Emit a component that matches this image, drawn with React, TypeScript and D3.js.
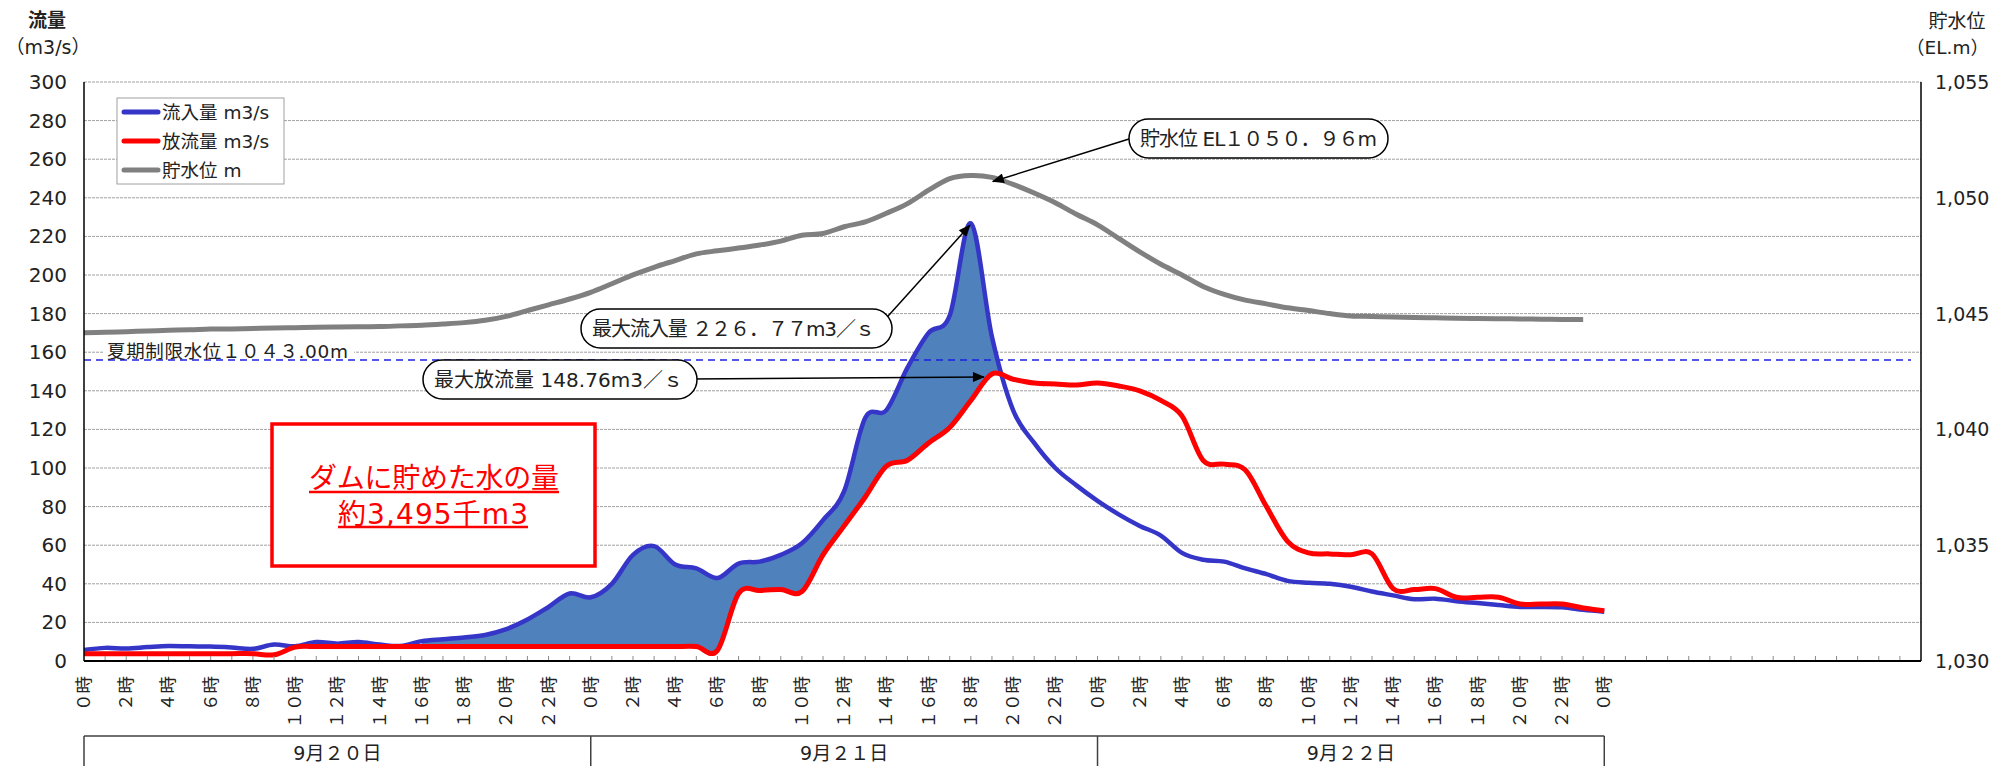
import React from 'react';
import * as d3 from 'd3';

// ---- data (hourly, 9/20 0時 = index 0) ----
const inflow = [
  5.7, 6.8, 6.5, 7.2, 7.8, 7.6, 7.5, 7.0, 6.3, 8.5,
  7.6, 9.8, 9.0, 9.8, 8.5, 7.8, 10.3, 11.3, 12.2, 13.5,
  16.5, 21.5, 28, 35, 33, 40, 55, 59.5, 50, 48,
  43, 50.5, 51.5, 55, 61, 73, 88, 126, 130, 152,
  170, 179, 226.77, 168, 130, 113, 100, 91, 83, 76,
  70, 65, 56, 52.5, 51.5, 48, 45, 41.5, 40.5, 40,
  38.5, 36, 34, 32, 32.3, 31, 30, 29, 28, 28,
  27.8, 26.5, 25.5,
];
const outflow = [
  3.8, 3.8, 3.8, 3.8, 3.8, 3.8, 3.8, 3.8, 3.8, 3.2,
  7.2, 7.5, 7.5, 7.5, 7.5, 7.5, 7.5, 7.5, 7.5, 7.5,
  7.5, 7.5, 7.5, 7.5, 7.5, 7.5, 7.5, 7.5, 7.5, 7.5,
  5.5, 35, 36.5, 37, 36, 55, 70, 85, 101, 104,
  113, 121, 135, 148.76, 146, 144, 143.5, 143, 144, 142.5,
  140, 135, 127, 104, 102, 99, 80, 62, 56, 55.5,
  55, 55.5, 37.5, 37, 37.5, 33, 33, 33, 29.5, 29.5,
  29.5, 27.5, 26,
];
const level = [
  1044.17, 1044.19, 1044.22, 1044.25, 1044.28, 1044.30, 1044.33, 1044.34, 1044.36, 1044.38,
  1044.39, 1044.41, 1044.42, 1044.43, 1044.44, 1044.47, 1044.50, 1044.55, 1044.61, 1044.71,
  1044.88, 1045.13, 1045.38, 1045.63, 1045.92, 1046.29, 1046.67, 1047.00, 1047.29, 1047.58,
  1047.71, 1047.83, 1047.96, 1048.13, 1048.38, 1048.46, 1048.75, 1048.96, 1049.33, 1049.75,
  1050.33, 1050.83, 1050.96, 1050.88, 1050.58, 1050.21, 1049.79, 1049.29, 1048.83, 1048.25,
  1047.67, 1047.13, 1046.67, 1046.17, 1045.83, 1045.58, 1045.42, 1045.25, 1045.13, 1045.00,
  1044.90, 1044.88, 1044.85, 1044.83, 1044.82, 1044.80, 1044.79, 1044.78, 1044.77, 1044.76,
  1044.75, 1044.75,
];
const hourLabelCycle = ['０時', '２時', '４時', '６時', '８時', '１０時', '１２時', '１４時', '１６時', '１８時', '２０時', '２２時'];
const dateLabels = ['9月２０日', '9月２１日', '9月２２日'];
const leftTicks = [0, 20, 40, 60, 80, 100, 120, 140, 160, 180, 200, 220, 240, 260, 280, 300];
const rightTicks = [1030, 1035, 1040, 1045, 1050, 1055];
const summerLimit = 1043.0;
const seriesNames = ['流入量 m3/s', '放流量 m3/s', '貯水位 m'];
const seriesColors = ['#3535c8', '#ff0000', '#808080'];

const W = 1991, H = 766;
const L = 84, R = 1921, T = 82, B = 661;
const FONT = "'DejaVu Sans', 'Noto Sans CJK JP', sans-serif";
const TXT = '#222';

export default function App() {
  const x = d3.scaleLinear().domain([0, 87]).range([L, R]);
  const y = d3.scaleLinear().domain([0, 300]).range([B, T]);
  const y2 = d3.scaleLinear().domain([1030, 1055]).range([B, T]);
  const curve = d3.curveCardinal.tension(0);

  const lineQ = d3.line<number>().x((_, i) => x(i)).y(d => y(d)).curve(curve);
  const lineL = d3.line<number>().x((_, i) => x(i)).y(d => y2(d)).curve(curve);
  const areaIn = d3.area<number>().x((_, i) => x(i)).y0(B).y1(d => y(d)).curve(curve);
  const areaAboveOut = d3.area<number>().x((_, i) => x(i)).y0(T - 50).y1(d => y(d)).curve(curve);

  const fmt = d3.format(',');
  const ticksX = d3.range(1, 87);
  const labelHours = d3.range(0, 73, 2);

  const maxIn = d3.max(inflow) as number;
  const iMaxIn = inflow.indexOf(maxIn);
  const maxOut = d3.max(outflow) as number;
  const iMaxOut = outflow.indexOf(maxOut);
  const maxLv = d3.max(level) as number;
  const iMaxLv = level.indexOf(maxLv);

  return (
    <svg width={W} height={H} style={{ position: 'absolute', left: 0, top: 0, background: '#fff' }} fontFamily={FONT}>
      <defs>
        <clipPath id="clipOut"><path d={areaAboveOut(outflow) || ''} /></clipPath>
        <clipPath id="clipX"><rect x={x(16)} y={T} width={x(45) - x(16)} height={B - T} /></clipPath>
        <marker id="arr" viewBox="0 0 12 10" refX="11" refY="5" markerWidth="13" markerHeight="10" markerUnits="userSpaceOnUse" orient="auto">
          <path d="M0,0 L12,5 L0,10 Z" fill="#000" />
        </marker>
      </defs>

      {/* gridlines */}
      {leftTicks.filter(t => t > 0).map(t => (
        <line key={t} x1={L} x2={R} y1={y(t)} y2={y(t)} stroke="#a0a0a0" strokeWidth={1} strokeDasharray="3 1" />
      ))}

      {/* stored water fill */}
      <g clipPath="url(#clipX)">
        <path d={areaIn(inflow) || ''} clipPath="url(#clipOut)" fill="#4f81bd" />
      </g>

      {/* summer limit line */}
      <line x1={L} x2={R - 10} y1={y2(summerLimit)} y2={y2(summerLimit)} stroke="#1f1fe0" strokeWidth={1.5} strokeDasharray="7 5" />
      <rect x={104} y={343} width={250} height={15} fill="#fff" />
      <text x={107} y={351} fontSize={18.5} fill={TXT} dominantBaseline="central" textLength={241} lengthAdjust="spacing">夏期制限水位１０４３.00m</text>

      {/* series */}
      <path d={lineL(level) || ''} fill="none" stroke={seriesColors[2]} strokeWidth={5} />
      <path d={lineQ(inflow) || ''} fill="none" stroke={seriesColors[0]} strokeWidth={4.5} />
      <path d={lineQ(outflow) || ''} fill="none" stroke={seriesColors[1]} strokeWidth={5} />

      {/* axes */}
      {ticksX.map(h => (
        <line key={h} x1={x(h)} x2={x(h)} y1={B} y2={B - 5} stroke="#8a8a8a" strokeWidth={1} />
      ))}
      <line x1={L} x2={R} y1={B} y2={B} stroke="#000" strokeWidth={2} />
      <line x1={L} x2={L} y1={T} y2={B} stroke="#000" strokeWidth={1.5} />
      <line x1={R} x2={R} y1={T} y2={B} stroke="#000" strokeWidth={1.5} />

      {leftTicks.map(t => (
        <text key={t} x={67} y={y(t)} fontSize={20} fill={TXT} textAnchor="end" dominantBaseline="central">{t}</text>
      ))}
      {rightTicks.map(t => (
        <text key={t} x={1935} y={y2(t)} fontSize={19} fill={TXT} textAnchor="start" dominantBaseline="central">{fmt(t)}</text>
      ))}

      <text x={47} y={20} fontSize={19} fontWeight="bold" fill={TXT} textAnchor="middle" dominantBaseline="central">流量</text>
      <text x={48} y={47} fontSize={19} fill={TXT} textAnchor="middle" dominantBaseline="central">（m3/s）</text>
      <text x={1957} y={21} fontSize={19} fill={TXT} textAnchor="middle" dominantBaseline="central">貯水位</text>
      <text x={1989} y={47} fontSize={18.5} fill={TXT} textAnchor="end" dominantBaseline="central">（EL.m）</text>

      {labelHours.map((h, i) => (
        <text key={h} transform={`translate(${x(h)},676) rotate(-90)`} fontSize={17.5} fill={TXT} textAnchor="end" dominantBaseline="central">
          {hourLabelCycle[i % hourLabelCycle.length]}
        </text>
      ))}

      {/* date boxes */}
      <line x1={x(0)} x2={x(72)} y1={736} y2={736} stroke="#404040" strokeWidth={1.5} />
      {[0, 24, 48, 72].map(h => (
        <line key={h} x1={x(h)} x2={x(h)} y1={736} y2={H} stroke="#404040" strokeWidth={1.5} />
      ))}
      {dateLabels.map((d, i) => (
        <text key={d} x={x(i * 24 + 12)} y={753} fontSize={19} fill={TXT} textAnchor="middle" dominantBaseline="central">{d}</text>
      ))}

      {/* legend */}
      <rect x={117} y={98} width={167} height={86} fill="#fff" stroke="#a0a0a0" strokeWidth={1} />
      {seriesNames.map((n, i) => (
        <g key={n}>
          <line x1={124} x2={158} y1={112 + i * 29} y2={112 + i * 29} stroke={seriesColors[i]} strokeWidth={5} strokeLinecap="round" />
          <text x={162} y={112 + i * 29} fontSize={18.5} fill={TXT} dominantBaseline="central">{n}</text>
        </g>
      ))}

      {/* red box */}
      <rect x={272} y={424} width={323} height={142} fill="#fff" stroke="#ff0000" strokeWidth={3.5} />
      <text x={434} y={478} fontSize={28} fill="#ff0000" textAnchor="middle" dominantBaseline="central" textLength={250} lengthAdjust="spacing">ダムに貯めた水の量</text>
      <line x1={309} x2={559} y1={492} y2={492} stroke="#ff0000" strokeWidth={2.5} />
      <text x={433} y={514} fontSize={28} fill="#ff0000" textAnchor="middle" dominantBaseline="central" textLength={190} lengthAdjust="spacing">約3,495千m3</text>
      <line x1={338} x2={528} y1={527} y2={527} stroke="#ff0000" strokeWidth={2.5} />

      {/* annotations */}
      <line x1={1129} y1={139} x2={x(iMaxLv) + 22} y2={y2(maxLv) + 6} stroke="#000" strokeWidth={1.5} markerEnd="url(#arr)" />
      <rect x={1129} y={119} width={259} height={39} rx={19.5} fill="#fff" stroke="#000" strokeWidth={1.5} />
      <text x={1140} y={139} fontSize={20} fill={TXT} dominantBaseline="central" textLength={237} lengthAdjust="spacing">貯水位 EL１０５０．９６m</text>

      <line x1={880} y1={325} x2={x(iMaxIn) - 1} y2={y(maxIn) + 2} stroke="#000" strokeWidth={1.5} markerEnd="url(#arr)" />
      <rect x={581} y={309} width={311} height={39} rx={19.5} fill="#fff" stroke="#000" strokeWidth={1.5} />
      <text x={592} y={329} fontSize={20} fill={TXT} dominantBaseline="central" textLength={283} lengthAdjust="spacing">最大流入量 ２２６．７７m3／ｓ</text>

      <line x1={690} y1={379} x2={x(iMaxOut) - 8} y2={y(maxOut) + 3} stroke="#000" strokeWidth={1.5} markerEnd="url(#arr)" />
      <rect x={423} y={360} width={274} height={39} rx={19.5} fill="#fff" stroke="#000" strokeWidth={1.5} />
      <text x={434} y={380} fontSize={20} fill={TXT} dominantBaseline="central" textLength={249} lengthAdjust="spacing">最大放流量 148.76m3／ｓ</text>
    </svg>
  );
}
